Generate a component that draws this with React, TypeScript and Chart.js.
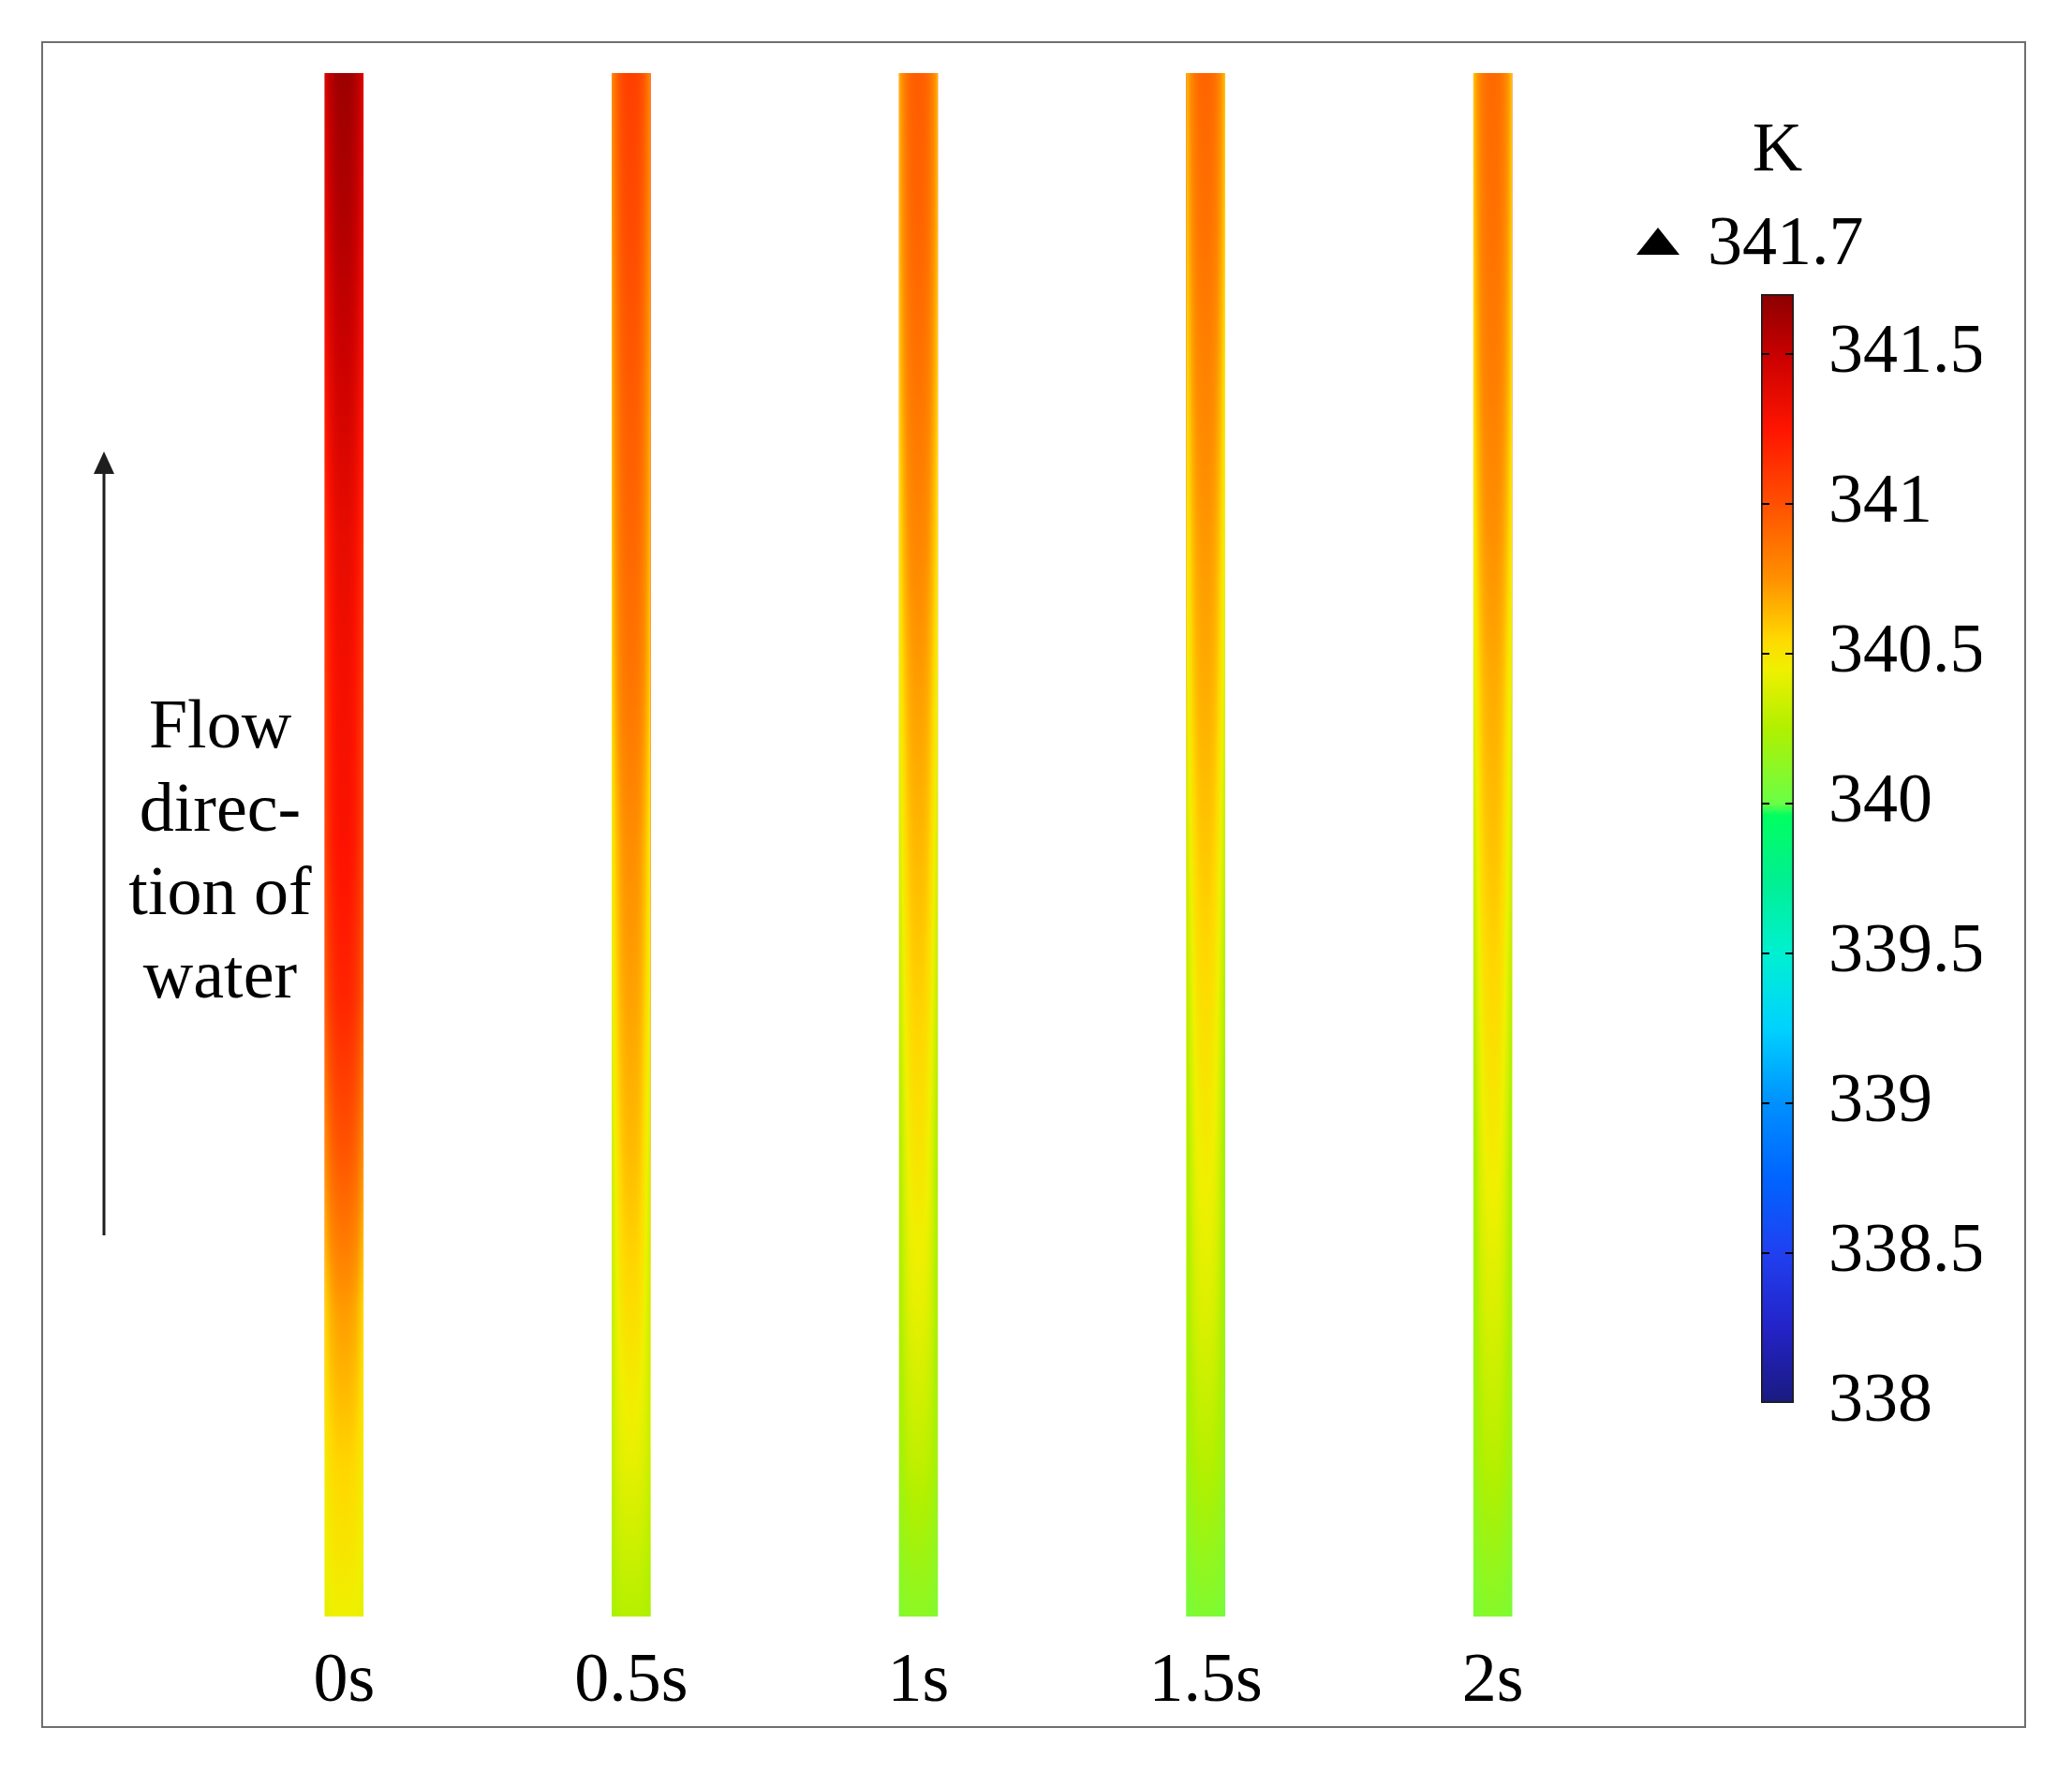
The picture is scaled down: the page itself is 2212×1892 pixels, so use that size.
import React, { useEffect, useRef } from "react";
import { Chart, registerables } from "chart.js";

Chart.register(...registerables);

// ---------------- data ----------------
const timeLabels = ["0s", "0.5s", "1s", "1.5s", "2s"];
// normalised position along the pipe (0 = inlet at bottom, 1 = outlet at top)
const heightFractions = [0, 0.1, 0.2, 0.3, 0.4, 0.5, 0.6, 0.7, 0.8, 0.9, 1.0];
// axis (centre-line) temperatures in K at each height
const temps0s = [340.45, 340.56, 340.72, 340.98, 341.18, 341.27, 341.3, 341.36, 341.47, 341.57, 341.64];
const temps05s = [340.27, 340.42, 340.53, 340.63, 340.7, 340.76, 340.85, 340.91, 340.96, 341.02, 341.07];
const temps1s = [340.12, 340.3, 340.42, 340.5, 340.57, 340.64, 340.71, 340.79, 340.86, 340.92, 340.95];
const temps15s = [340.08, 340.27, 340.39, 340.47, 340.53, 340.6, 340.67, 340.73, 340.8, 340.87, 340.92];
const temps2s = [340.1, 340.27, 340.38, 340.47, 340.54, 340.61, 340.67, 340.75, 340.82, 340.87, 340.9];
// how much cooler (K) the pipe wall is than the axis, per time step
const wallCooling = [0.24, 0.3, 0.3, 0.3, 0.3];
// relative size of that wall cooling at each height (small near the inlet)
const wallCoolingByHeight = [0.15, 0.4, 0.75, 1, 1, 1, 1, 1, 1, 1, 1];

const colorbarMin = 338;
const colorbarMax = 341.7;
const colorbarTicks = [338, 338.5, 339, 339.5, 340, 340.5, 341, 341.5];
const colorbarUnit = "K";
const annotationLines = ["Flow", "direc-", "tion of", "water"];

const profiles = [temps0s, temps05s, temps1s, temps15s, temps2s];

// ---------------- colormap (style) ----------------
const cmapValues = [338.0, 338.25, 338.5, 338.75, 339.0, 339.25, 339.5, 339.75, 339.96, 340.0, 340.25, 340.45, 340.55, 340.75, 341.0, 341.25, 341.5, 341.7];
const cmapColors = ["#1a1a80", "#2323c8", "#2040f0", "#0064ff", "#0090ff", "#00d2ff", "#00f0d2", "#00f090", "#00ff60", "#6aff46", "#b0f000", "#f0f000", "#ffd800", "#ff9000", "#ff5000", "#ff1400", "#c80000", "#8b0000"];

const SERIF = "'Liberation Serif', 'Times New Roman', Times, serif";
const FONT_SIZE = 74;

function hexToRgb(h: string): number[] {
  const n = parseInt(h.slice(1), 16);
  return [(n >> 16) & 255, (n >> 8) & 255, n & 255];
}
const cmapRgb = cmapColors.map(hexToRgb);

function colormap(t: number): string {
  const last = cmapValues.length - 1;
  const v = Math.min(Math.max(t, cmapValues[0]), cmapValues[last]);
  let k = 0;
  while (k < last - 1 && v > cmapValues[k + 1]) k++;
  const f = (v - cmapValues[k]) / (cmapValues[k + 1] - cmapValues[k]);
  const a = cmapRgb[k];
  const b = cmapRgb[k + 1];
  const c = [0, 1, 2].map((j) => Math.round(a[j] + (b[j] - a[j]) * f));
  return `rgb(${c[0]},${c[1]},${c[2]})`;
}

function profileGradient(ctx: CanvasRenderingContext2D, yScale: any, temps: number[], offset: number) {
  const last = heightFractions.length - 1;
  const y0 = yScale.getPixelForValue(heightFractions[0]);
  const y1 = yScale.getPixelForValue(heightFractions[last]);
  const g = ctx.createLinearGradient(0, y0, 0, y1);
  const span = heightFractions[last] - heightFractions[0];
  const SUB = 6;
  for (let k = 0; k < last; k++) {
    for (let s = 0; s < SUB; s++) {
      const f = s / SUB;
      const z = heightFractions[k] + (heightFractions[k + 1] - heightFractions[k]) * f;
      const T = temps[k] + (temps[k + 1] - temps[k]) * f;
      const w = wallCoolingByHeight[k] + (wallCoolingByHeight[k + 1] - wallCoolingByHeight[k]) * f;
      g.addColorStop((z - heightFractions[0]) / span, colormap(T - offset * w));
    }
  }
  g.addColorStop(1, colormap(temps[last] - offset * wallCoolingByHeight[last]));
  return g;
}

const pipeShading = {
  id: "pipeShading",
  afterDatasetsDraw(chart: any) {
    const meta = chart.getDatasetMeta(0);
    const ctx: CanvasRenderingContext2D = chart.ctx;
    const yScale = chart.scales.y;
    ctx.save();
    meta.data.forEach((el: any, i: number) => {
      const { x, y, base, width } = el.getProps(["x", "y", "base", "width"], true);
      const left = Math.round(x - width / 2);
      const cols = Math.round(width);
      const top = Math.min(y, base);
      const h = Math.abs(base - y);
      for (let c = 0; c < cols; c++) {
        const r = Math.abs((left + c + 0.5 - x) / (width / 2));
        const off = wallCooling[i] * Math.pow(r, 2.6);
        ctx.fillStyle = profileGradient(ctx, yScale, profiles[i], off);
        ctx.fillRect(left + c, top, 1, h);
      }
    });
    ctx.restore();
  },
};

const flowNote = {
  id: "flowNote",
  afterDraw(chart: any) {
    const ctx: CanvasRenderingContext2D = chart.ctx;
    ctx.save();
    ctx.fillStyle = "#000";
    ctx.font = `${FONT_SIZE}px ${SERIF}`;
    ctx.textAlign = "center";
    ctx.textBaseline = "alphabetic";
    annotationLines.forEach((t, k) => ctx.fillText(t, 235, 798 + 89 * k));
    // arrow
    ctx.strokeStyle = "#1e1e1e";
    ctx.fillStyle = "#1e1e1e";
    ctx.lineWidth = 3;
    ctx.beginPath();
    ctx.moveTo(111, 1319);
    ctx.lineTo(111, 500);
    ctx.stroke();
    ctx.beginPath();
    ctx.moveTo(111, 482);
    ctx.lineTo(100, 506);
    ctx.lineTo(122, 506);
    ctx.closePath();
    ctx.fill();
    ctx.restore();
  },
};

const colorbarDecor = {
  id: "colorbarDecor",
  afterDatasetsDraw(chart: any) {
    const ctx: CanvasRenderingContext2D = chart.ctx;
    const el = chart.getDatasetMeta(0).data[0];
    const { x, width } = el.getProps(["x", "width"], true);
    const left = x - width / 2;
    const right = x + width / 2;
    const ys = chart.scales.y;
    ctx.save();
    ctx.strokeStyle = "#000";
    ctx.lineWidth = 2;
    colorbarTicks.forEach((v) => {
      if (v <= colorbarMin || v >= colorbarMax) return;
      const py = Math.round(ys.getPixelForValue(v));
      ctx.beginPath();
      ctx.moveTo(left + 1, py);
      ctx.lineTo(left + 9, py);
      ctx.moveTo(right - 9, py);
      ctx.lineTo(right - 1, py);
      ctx.stroke();
    });
    const top = ys.getPixelForValue(colorbarMax);
    ctx.fillStyle = "#000";
    ctx.font = `${FONT_SIZE}px ${SERIF}`;
    ctx.textBaseline = "alphabetic";
    ctx.textAlign = "center";
    ctx.fillText(colorbarUnit, x, top - 132);
    ctx.beginPath();
    ctx.moveTo(left - 133, top - 42);
    ctx.lineTo(left - 87, top - 42);
    ctx.lineTo(left - 110, top - 71);
    ctx.closePath();
    ctx.fill();
    ctx.textAlign = "left";
    ctx.fillText(String(colorbarMax), left - 57, top - 32);
    ctx.restore();
  },
};

export default function App() {
  const mainRef = useRef<HTMLCanvasElement>(null);
  const cbRef = useRef<HTMLCanvasElement>(null);

  useEffect(() => {
    const font = { family: SERIF, size: FONT_SIZE };
    const last = heightFractions.length - 1;
    const main = new Chart(mainRef.current as HTMLCanvasElement, {
      type: "bar",
      data: {
        labels: timeLabels,
        datasets: [
          {
            data: timeLabels.map(() => [heightFractions[0], heightFractions[last]]) as any,
            backgroundColor: (c: any) => {
              const chart = c.chart;
              if (!chart.chartArea || c.dataIndex === undefined) return "#ff8000";
              return profileGradient(chart.ctx, chart.scales.y, profiles[c.dataIndex], 0);
            },
            borderWidth: 0,
            barThickness: 41,
          } as any,
        ],
      },
      options: {
        animation: false,
        responsive: false,
        events: [],
        layout: { padding: { left: 214, right: 465, top: 78, bottom: 16 } },
        plugins: { legend: { display: false }, tooltip: { enabled: false } },
        scales: {
          x: {
            grid: { display: false, drawTicks: false },
            border: { display: false },
            ticks: { font, color: "#000", padding: 26 },
            afterFit: (s: any) => {
              s.height = 150;
            },
          },
          y: { display: false, min: heightFractions[0], max: heightFractions[last] },
        },
      } as any,
      plugins: [pipeShading, flowNote],
    });

    const cb = new Chart(cbRef.current as HTMLCanvasElement, {
      type: "bar",
      data: {
        labels: [colorbarUnit],
        datasets: [
          {
            data: [[colorbarMin, colorbarMax]] as any,
            backgroundColor: (c: any) => {
              const chart = c.chart;
              if (!chart.chartArea) return "#888";
              const ys = chart.scales.y;
              const y0 = ys.getPixelForValue(colorbarMin);
              const y1 = ys.getPixelForValue(colorbarMax);
              const g = chart.ctx.createLinearGradient(0, y0, 0, y1);
              cmapValues.forEach((v, k) => g.addColorStop((v - colorbarMin) / (colorbarMax - colorbarMin), cmapColors[k]));
              return g;
            },
            borderColor: "#1c1c1c",
            borderWidth: 2,
            borderSkipped: false,
            barThickness: 35,
          } as any,
        ],
      },
      options: {
        animation: false,
        responsive: false,
        events: [],
        layout: { padding: { left: 1880, right: 97, top: 314, bottom: 394 } },
        plugins: { legend: { display: false }, tooltip: { enabled: false } },
        scales: {
          x: { display: false },
          y: {
            position: "right",
            min: colorbarMin,
            max: colorbarMax,
            afterBuildTicks: (s: any) => {
              s.ticks = colorbarTicks.map((v) => ({ value: v }));
            },
            afterFit: (s: any) => {
              s.width = 200;
            },
            grid: { display: false, drawTicks: false },
            border: { display: false },
            ticks: { font, color: "#000", padding: 37, callback: (v: any) => String(v) },
          },
        },
      } as any,
      plugins: [colorbarDecor],
    });

    return () => {
      main.destroy();
      cb.destroy();
    };
  }, []);

  return (
    <div style={{ position: "absolute", left: 0, top: 0, width: 2212, height: 1892, background: "#fff", overflow: "hidden" }}>
      <div
        style={{
          position: "absolute",
          left: 44,
          top: 44,
          width: 2119,
          height: 1801,
          boxSizing: "border-box",
          border: "2px solid #6f6f6f",
        }}
      />
      <canvas ref={mainRef} width={2212} height={1892} style={{ position: "absolute", left: 0, top: 0 }} />
      <canvas ref={cbRef} width={2212} height={1892} style={{ position: "absolute", left: 0, top: 0 }} />
    </div>
  );
}
